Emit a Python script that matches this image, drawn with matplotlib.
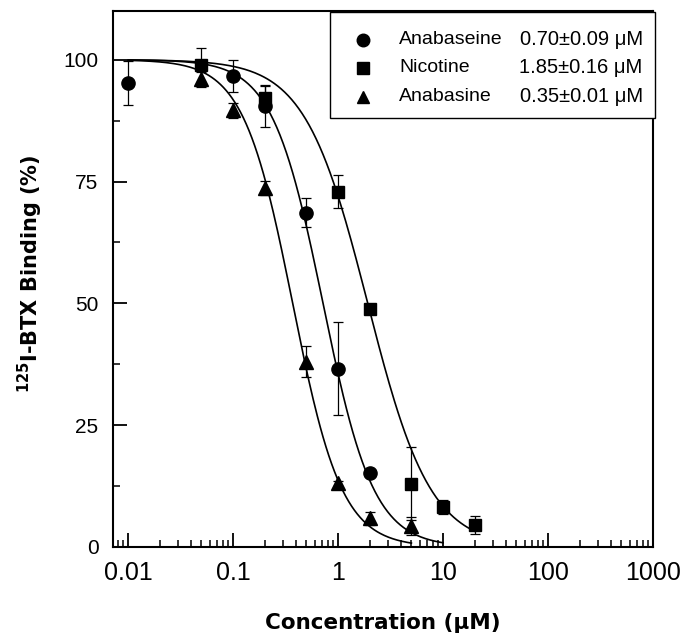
import numpy as np
import matplotlib.pyplot as plt
from matplotlib.patches import Rectangle
from matplotlib.ticker import LogLocator, FixedLocator, NullFormatter

plt.rcParams['font.family'] = ['Liberation Sans', 'DejaVu Sans']

# measured points (concentration uM, % binding, error)
anabaseine_x = [0.01, 0.1, 0.2, 0.5, 1, 2]
anabaseine_y = [95.3, 96.7, 90.5, 68.6, 36.6, 15.2]
anabaseine_err = [4.5, 3.3, 4.3, 3.0, 9.5, 0.8]

nicotine_x = [0.05, 0.2, 1, 2, 5, 10, 20]
nicotine_y = [99.0, 92.2, 72.9, 48.9, 13.0, 8.2, 4.5]
nicotine_err = [3.5, 2.5, 3.4, 0.8, 7.5, 1.5, 1.9]

anabasine_x = [0.05, 0.1, 0.2, 0.5, 1, 2, 5]
anabasine_y = [96.0, 89.6, 73.7, 38.0, 13.1, 5.9, 4.3]
anabasine_err = [1.5, 1.6, 1.5, 3.2, 0.5, 1.3, 1.8]

# fitted curves: IC50, hill slope, plotted range end
fit_ic50 = [0.72, 1.92, 0.37]
fit_hill = [1.8, 1.45, 1.85]
fit_end = [10, 20, 5]

names = ['Anabaseine', 'Nicotine', 'Anabasine']
values = ['0.70\u00b10.09 \u03bcM', '1.85\u00b10.16 \u03bcM', '0.35\u00b10.01 \u03bcM']
markers = ['o', 's', '^']
msizes = [9.5, 8.5, 9.5]

fig = plt.figure(figsize=(6.95, 6.35), dpi=100)
ax = fig.add_axes([113/695, 1-547/635, 540/695, 536/635])

series = [(anabaseine_x, anabaseine_y, anabaseine_err),
          (nicotine_x, nicotine_y, nicotine_err),
          (anabasine_x, anabasine_y, anabasine_err)]

for i, (xs, ys, es) in enumerate(series):
    xx = np.logspace(-2, np.log10(fit_end[i]), 200)
    yy = 100 / (1 + (xx / fit_ic50[i]) ** fit_hill[i])
    ax.plot(xx, yy, color='black', lw=1.2, zorder=2)
    ax.errorbar(xs, ys, yerr=es, fmt='none', ecolor='black', elinewidth=0.9,
                capsize=3.5, capthick=0.9, zorder=3)
    ax.plot(xs, ys, linestyle='none', marker=markers[i], ms=msizes[i],
            color='black', zorder=4)

ax.set_xscale('log')
ax.set_xlim(0.01 / 10 ** (15 / 105), 1000)
ax.set_ylim(0, 110)
ax.set_xticks([0.01, 0.1, 1, 10, 100, 1000])
ax.set_xticklabels(['0.01', '0.1', '1', '10', '100', '1000'])
ax.xaxis.set_minor_locator(LogLocator(base=10, subs=np.arange(2, 10)))
ax.xaxis.set_minor_formatter(NullFormatter())
ax.set_yticks([0, 25, 50, 75, 100])
ax.yaxis.set_minor_locator(FixedLocator([12.5, 37.5, 62.5, 87.5]))

ax.tick_params(which='major', direction='in', length=10, width=1.3,
               top=False, right=False)
ax.tick_params(axis='x', which='major', labelsize=18, pad=10)
ax.tick_params(axis='y', which='major', labelsize=15, pad=10.5)
ax.tick_params(which='minor', direction='in', length=5, width=1.1,
               top=False, right=False)
for s in ax.spines.values():
    s.set_linewidth(1.5)

ax.set_xlabel('Concentration (\u03bcM)', fontsize=15.5, fontweight='bold',
              family='DejaVu Sans', labelpad=20)
ax.set_ylabel('$\\mathbf{^{125}}$I-BTX Binding (%)', fontsize=15, fontweight='bold',
              family='DejaVu Sans', labelpad=13)
ax.yaxis.label.set_y(0.51)

# legend box
ax.add_patch(Rectangle((0.402, 0.800), 0.602, 0.198, transform=ax.transAxes,
                       fill=True, facecolor='white', edgecolor='black', lw=1.0,
                       clip_on=False, zorder=5))
rows = [0.946, 0.894, 0.840]
for i in range(3):
    ax.plot([0.463], [rows[i]], marker=markers[i], ms=msizes[i] * 0.95, color='black',
            transform=ax.transAxes, clip_on=False, zorder=6)
    ax.text(0.530, rows[i], names[i], transform=ax.transAxes, fontsize=14,
            va='center', ha='left', zorder=6)
    ax.text(0.981, rows[i], values[i], transform=ax.transAxes, fontsize=14.5,
            va='center', ha='right', zorder=6)

fig.savefig('out.png', dpi=100)
